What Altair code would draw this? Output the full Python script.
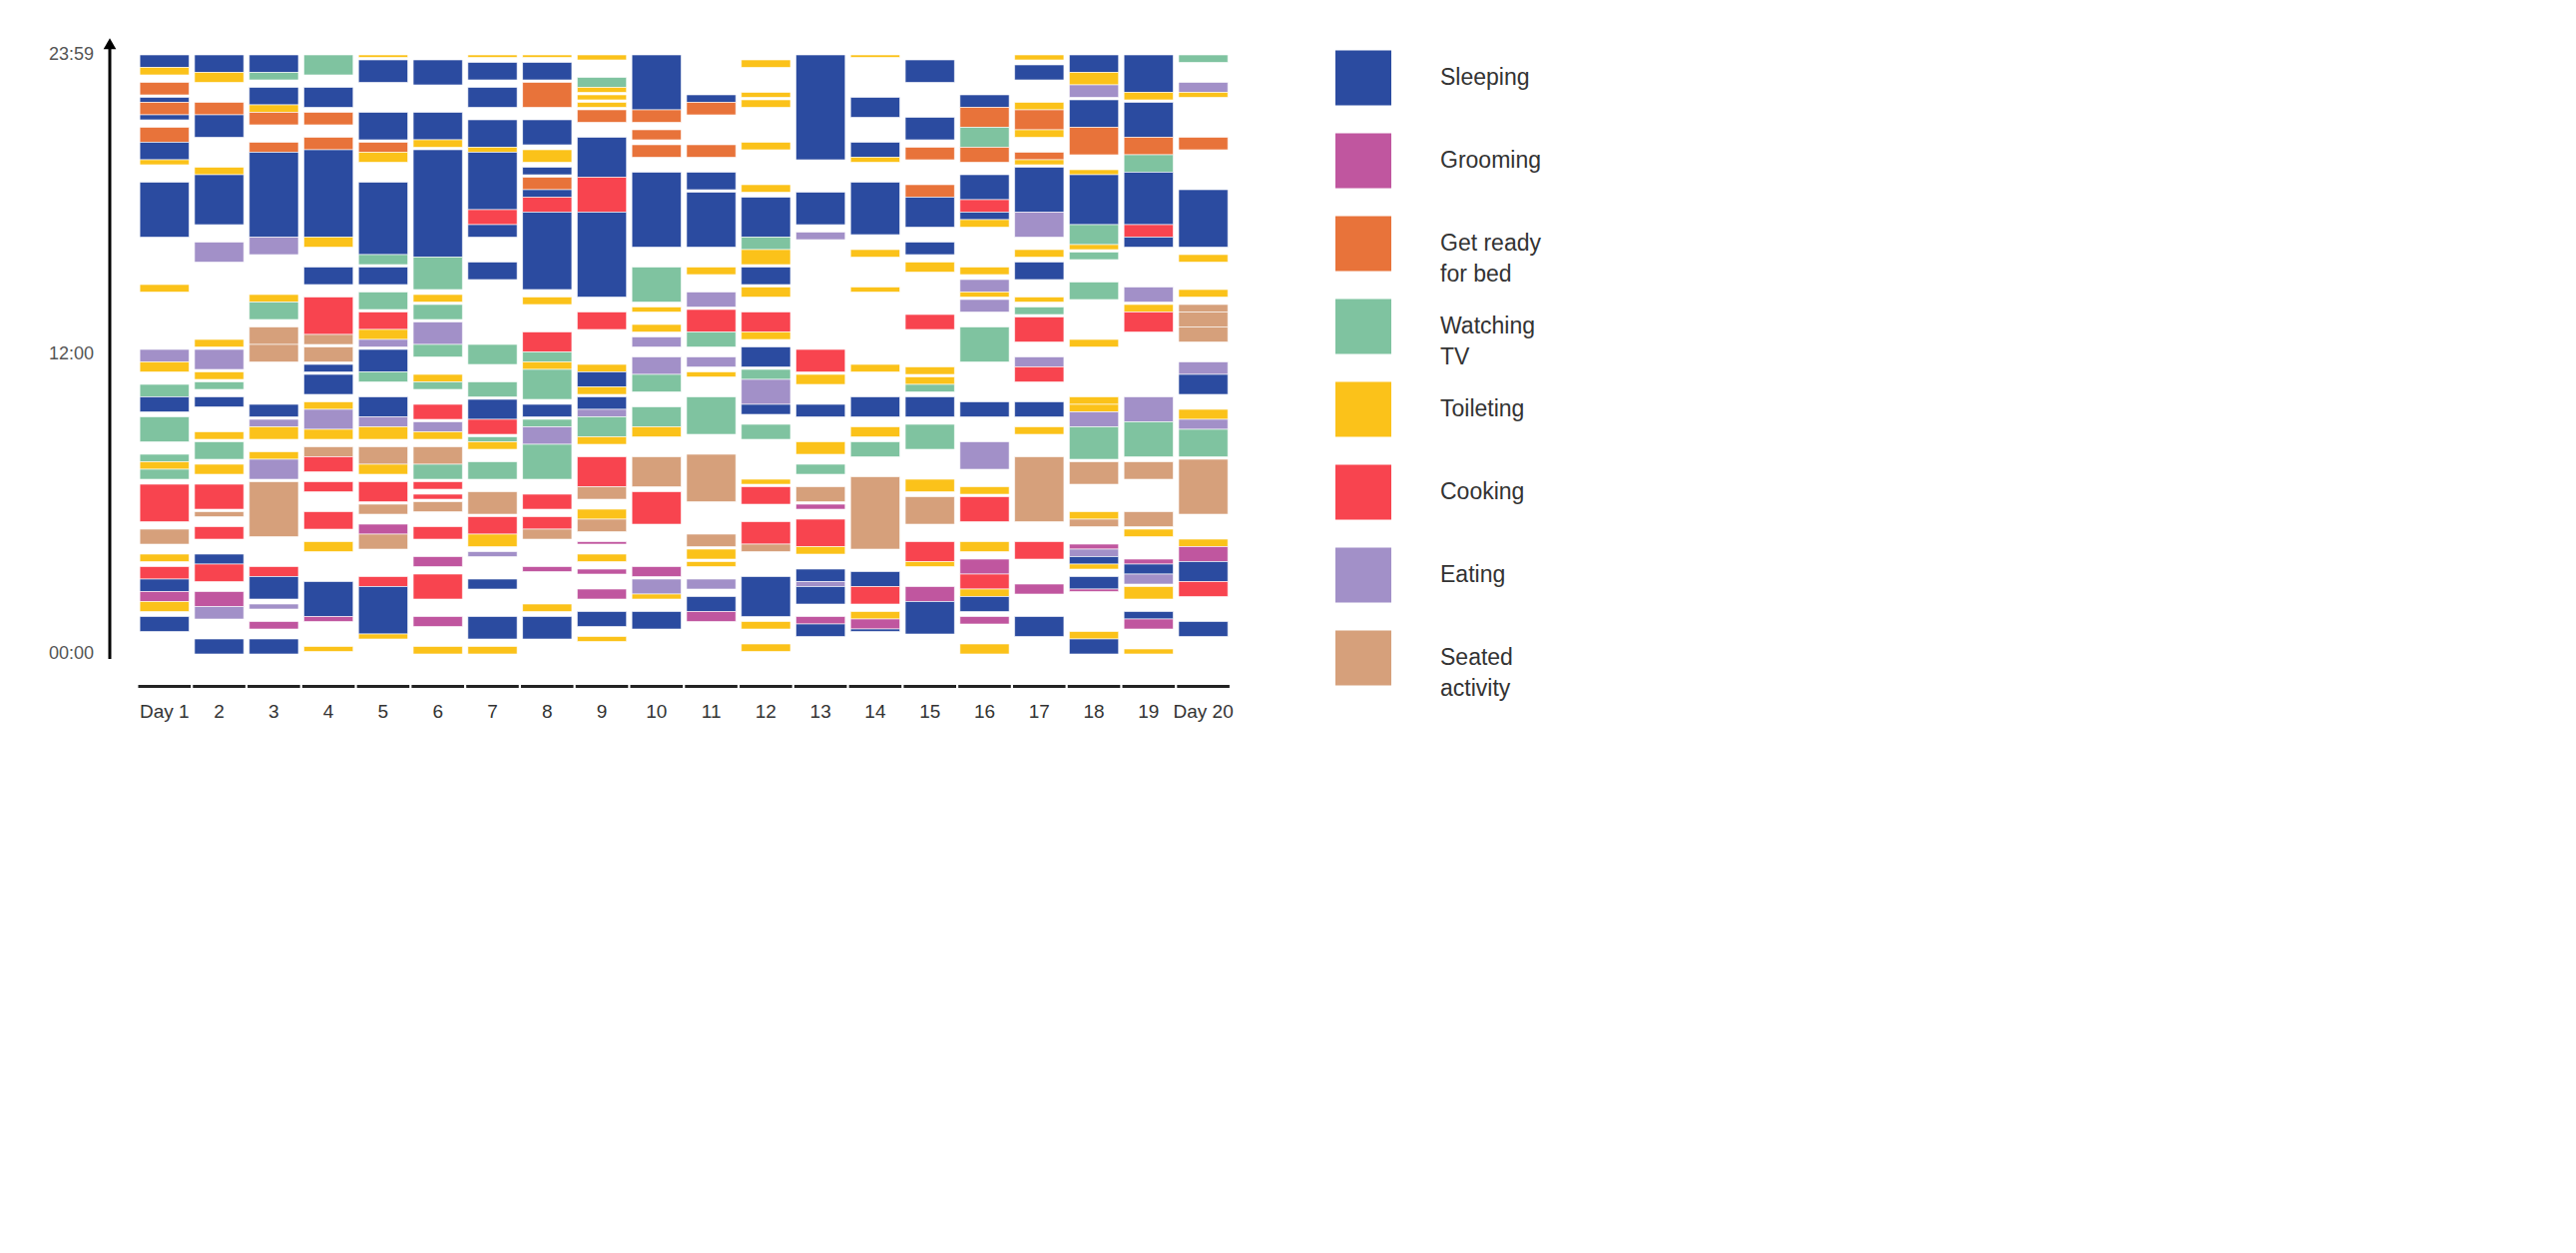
import altair as alt
import pandas as pd

activities = ["Sleeping", "Grooming", "Get ready\nfor bed", "Watching\nTV", "Toileting", "Cooking", "Eating", "Seated\nactivity"]
codes = ["S", "G", "R", "W", "T", "C", "E", "A"]
colors = ["#2b4ba0", "#c0569f", "#e8733a", "#7fc3a0", "#fbc21a", "#f8444f", "#a290c8", "#d6a07b"]
day_labels = ["Day 1"] + [str(i) for i in range(2, 20)] + ["Day 20"]
y_ticks = [0, 12, 24]
y_tick_labels = ["00:00", "12:00", "23:59"]

# (code, start hour (top), end hour (bottom))
d01 = [("S",24.0,23.5),("T",23.5,23.2),("R",22.9,22.4),("S",22.3,22.1),("R",22.1,21.6),("S",21.6,21.4),("R",21.1,20.5),("S",20.5,19.8),("T",19.8,19.6),("S",18.9,16.7),("T",14.8,14.5),("E",12.2,11.7),("T",11.7,11.3),("W",10.8,10.3),("S",10.3,9.7),("W",9.5,8.5),("W",8.0,7.7),("T",7.7,7.4),("W",7.4,7.0),("C",6.8,5.3),("A",5.0,4.4),("T",4.0,3.7),("C",3.5,3.0),("S",3.0,2.5),("G",2.5,2.1),("T",2.1,1.7),("S",1.5,0.9)]
d02 = [("S",24.0,23.3),("T",23.3,22.9),("R",22.1,21.6),("S",21.6,20.7),("T",19.5,19.2),("S",19.2,17.2),("E",16.5,15.7),("T",12.6,12.3),("E",12.2,11.4),("T",11.3,11.0),("W",10.9,10.6),("S",10.3,9.9),("T",8.9,8.6),("W",8.5,7.8),("T",7.6,7.2),("C",6.8,5.8),("A",5.7,5.5),("C",5.1,4.6),("S",4.0,3.6),("C",3.6,2.9),("G",2.5,1.9),("E",1.9,1.4),("S",0.6,0.0)]
d03 = [("S",24.0,23.3),("W",23.3,23.0),("S",22.7,22.0),("T",22.0,21.7),("R",21.7,21.2),("R",20.5,20.1),("S",20.1,16.7),("E",16.7,16.0),("T",14.4,14.1),("W",14.1,13.4),("A",13.1,12.4),("A",12.4,11.7),("S",10.0,9.5),("E",9.4,9.1),("T",9.1,8.6),("T",8.1,7.8),("E",7.8,7.0),("A",6.9,4.7),("C",3.5,3.1),("S",3.1,2.2),("E",2.0,1.8),("G",1.3,1.0),("S",0.6,0.0)]
d04 = [("W",24.0,23.2),("S",22.7,21.9),("R",21.7,21.2),("R",20.7,20.2),("S",20.2,16.7),("T",16.7,16.3),("S",15.5,14.8),("C",14.3,12.8),("A",12.8,12.4),("A",12.3,11.7),("S",11.6,11.3),("S",11.2,10.4),("T",10.1,9.8),("E",9.8,9.0),("T",9.0,8.6),("A",8.3,7.9),("C",7.9,7.3),("C",6.9,6.5),("C",5.7,5.0),("T",4.5,4.1),("S",2.9,1.5),("G",1.5,1.3),("T",0.3,0.1)]
d05 = [("T",24.0,23.9),("S",23.8,22.9),("S",21.7,20.6),("R",20.5,20.1),("T",20.1,19.7),("S",18.9,16.0),("W",16.0,15.6),("S",15.5,14.8),("W",14.5,13.8),("C",13.7,13.0),("T",13.0,12.6),("E",12.6,12.3),("S",12.2,11.3),("W",11.3,10.9),("S",10.3,9.5),("E",9.5,9.1),("T",9.1,8.6),("A",8.3,7.6),("T",7.6,7.2),("C",6.9,6.1),("A",6.0,5.6),("G",5.2,4.8),("A",4.8,4.2),("C",3.1,2.7),("S",2.7,0.8),("T",0.8,0.6)]
d06 = [("S",23.8,22.8),("S",21.7,20.6),("T",20.6,20.3),("S",20.2,15.9),("W",15.9,14.6),("T",14.4,14.1),("W",14.0,13.4),("E",13.3,12.4),("W",12.4,11.9),("T",11.2,10.9),("W",10.9,10.6),("C",10.0,9.4),("E",9.3,8.9),("T",8.9,8.6),("A",8.3,7.6),("W",7.6,7.0),("C",6.9,6.6),("C",6.4,6.2),("A",6.1,5.7),("C",5.1,4.6),("G",3.9,3.5),("C",3.2,2.2),("G",1.5,1.1),("T",0.3,0.0)]
d07 = [("T",24.0,23.9),("S",23.7,23.0),("S",22.7,21.9),("S",21.4,20.3),("T",20.3,20.1),("S",20.1,17.8),("C",17.8,17.2),("S",17.2,16.7),("S",15.7,15.0),("W",12.4,11.6),("W",10.9,10.3),("S",10.2,9.4),("C",9.4,8.8),("W",8.7,8.5),("T",8.5,8.2),("W",7.7,7.0),("A",6.5,5.6),("C",5.5,4.8),("T",4.8,4.3),("E",4.1,3.9),("S",3.0,2.6),("S",1.5,0.6),("T",0.3,0.0)]
d08 = [("T",24.0,23.9),("S",23.7,23.0),("R",22.9,21.9),("S",21.4,20.4),("T",20.2,19.7),("S",19.5,19.2),("R",19.1,18.6),("S",18.6,18.3),("C",18.3,17.7),("S",17.7,14.6),("T",14.3,14.0),("C",12.9,12.1),("W",12.1,11.7),("T",11.7,11.4),("W",11.4,10.2),("S",10.0,9.5),("W",9.4,9.1),("E",9.1,8.4),("W",8.4,7.0),("C",6.4,5.8),("C",5.5,5.0),("A",5.0,4.6),("G",3.5,3.3),("T",2.0,1.7),("S",1.5,0.6)]
d09 = [("T",24.0,23.8),("W",23.1,22.7),("T",22.7,22.5),("T",22.4,22.2),("T",22.1,21.9),("R",21.8,21.3),("S",20.7,19.1),("C",19.1,17.7),("S",17.7,14.3),("C",13.7,13.0),("T",11.6,11.3),("S",11.3,10.7),("T",10.7,10.4),("S",10.3,9.8),("E",9.8,9.5),("W",9.5,8.7),("T",8.7,8.4),("C",7.9,6.7),("A",6.7,6.2),("T",5.8,5.4),("A",5.4,4.9),("G",4.5,4.4),("T",4.0,3.7),("G",3.4,3.2),("G",2.6,2.2),("S",1.7,1.1),("T",0.7,0.5)]
d10 = [("S",24.0,21.8),("R",21.8,21.3),("R",21.0,20.6),("R",20.4,19.9),("S",19.3,16.3),("W",15.5,14.1),("T",13.9,13.7),("T",13.2,12.9),("E",12.7,12.3),("E",11.9,11.2),("W",11.2,10.5),("W",9.9,9.1),("T",9.1,8.7),("A",7.9,6.7),("C",6.5,5.2),("G",3.5,3.1),("E",3.0,2.4),("T",2.4,2.2),("S",1.7,1.0)]
d11 = [("S",22.4,22.1),("R",22.1,21.6),("R",20.4,19.9),("S",19.3,18.6),("S",18.5,16.3),("T",15.5,15.2),("E",14.5,13.9),("C",13.8,12.9),("W",12.9,12.3),("E",11.9,11.5),("T",11.3,11.1),("W",10.3,8.8),("A",8.0,6.1),("A",4.8,4.3),("T",4.2,3.8),("T",3.7,3.5),("E",3.0,2.6),("S",2.3,1.7),("G",1.7,1.3)]
d12 = [("T",23.8,23.5),("T",22.5,22.3),("T",22.2,21.9),("T",20.5,20.2),("T",18.8,18.5),("S",18.3,16.7),("W",16.7,16.2),("T",16.2,15.6),("S",15.5,14.8),("T",14.7,14.3),("C",13.7,12.9),("T",12.9,12.6),("S",12.3,11.5),("W",11.4,11.0),("E",11.0,10.0),("S",10.0,9.6),("W",9.2,8.6),("T",7.0,6.8),("C",6.7,6.0),("C",5.3,4.4),("A",4.4,4.1),("S",3.1,1.5),("T",1.3,1.0),("T",0.4,0.1)]
d13 = [("S",24.0,19.8),("S",18.5,17.2),("E",16.9,16.6),("C",12.2,11.3),("T",11.2,10.8),("S",10.0,9.5),("T",8.5,8.0),("W",7.6,7.2),("A",6.7,6.1),("G",6.0,5.8),("C",5.4,4.3),("T",4.3,4.0),("S",3.4,2.9),("E",2.9,2.7),("S",2.7,2.0),("G",1.5,1.2),("S",1.2,0.7)]
d14 = [("T",24.0,23.9),("S",22.3,21.5),("S",20.5,19.9),("T",19.9,19.7),("S",18.9,16.8),("T",16.2,15.9),("T",14.7,14.5),("T",11.6,11.3),("S",10.3,9.5),("T",9.1,8.7),("W",8.5,7.9),("A",7.1,4.2),("S",3.3,2.7),("C",2.7,2.0),("T",1.7,1.4),("G",1.4,1.0),("S",1.0,0.9)]
d15 = [("S",23.8,22.9),("S",21.5,20.6),("R",20.3,19.8),("R",18.8,18.3),("S",18.3,17.1),("S",16.5,16.0),("T",15.7,15.3),("C",13.6,13.0),("T",11.5,11.2),("T",11.1,10.8),("W",10.8,10.5),("S",10.3,9.5),("W",9.2,8.2),("T",7.0,6.5),("A",6.3,5.2),("C",4.5,3.7),("T",3.7,3.5),("G",2.7,2.1),("S",2.1,0.8)]
d16 = [("S",22.4,21.9),("R",21.9,21.1),("W",21.1,20.3),("R",20.3,19.7),("S",19.2,18.2),("C",18.2,17.7),("S",17.7,17.4),("T",17.4,17.1),("T",15.5,15.2),("E",15.0,14.5),("T",14.5,14.3),("E",14.2,13.7),("W",13.1,11.7),("S",10.1,9.5),("E",8.5,7.4),("T",6.7,6.4),("C",6.3,5.3),("T",4.5,4.1),("G",3.8,3.2),("C",3.2,2.6),("T",2.6,2.3),("S",2.3,1.7),("G",1.5,1.2),("T",0.4,0.0)]
d17 = [("T",24.0,23.8),("S",23.6,23.0),("T",22.1,21.8),("R",21.8,21.0),("T",21.0,20.7),("R",20.1,19.8),("T",19.8,19.6),("S",19.5,17.7),("E",17.7,16.7),("T",16.2,15.9),("S",15.7,15.0),("T",14.3,14.1),("W",13.9,13.6),("C",13.5,12.5),("E",11.9,11.5),("C",11.5,10.9),("S",10.1,9.5),("T",9.1,8.8),("A",7.9,5.3),("C",4.5,3.8),("G",2.8,2.4),("S",1.5,0.7)]
d18 = [("S",24.0,23.3),("T",23.3,22.8),("E",22.8,22.3),("S",22.2,21.1),("R",21.1,20.0),("T",19.4,19.2),("S",19.2,17.2),("W",17.2,16.4),("T",16.4,16.2),("W",16.1,15.8),("W",14.9,14.2),("T",12.6,12.3),("T",10.3,10.0),("T",10.0,9.7),("E",9.7,9.1),("W",9.1,7.8),("A",7.7,6.8),("T",5.7,5.4),("A",5.4,5.1),("G",4.4,4.2),("E",4.2,3.9),("S",3.9,3.6),("T",3.6,3.4),("S",3.1,2.6),("G",2.6,2.5),("T",0.9,0.6),("S",0.6,0.0)]
d19 = [("S",24.0,22.5),("T",22.5,22.2),("S",22.1,20.7),("R",20.7,20.0),("W",20.0,19.3),("S",19.3,17.2),("C",17.2,16.7),("S",16.7,16.3),("E",14.7,14.1),("T",14.0,13.7),("C",13.7,12.9),("E",10.3,9.3),("W",9.3,7.9),("A",7.7,7.0),("A",5.7,5.1),("T",5.0,4.7),("G",3.8,3.6),("S",3.6,3.2),("E",3.2,2.8),("T",2.7,2.2),("S",1.7,1.4),("G",1.4,1.0),("T",0.2,0.0)]
d20 = [("W",24.0,23.7),("E",22.9,22.5),("T",22.5,22.3),("R",20.7,20.2),("S",18.6,16.3),("T",16.0,15.7),("T",14.6,14.3),("A",14.0,13.7),("A",13.7,13.1),("A",13.1,12.5),("E",11.7,11.2),("S",11.2,10.4),("T",9.8,9.4),("E",9.4,9.0),("W",9.0,7.9),("A",7.8,5.6),("T",4.6,4.3),("G",4.3,3.7),("S",3.7,2.9),("C",2.9,2.3),("S",1.3,0.7)]

days = [d01, d02, d03, d04, d05, d06, d07, d08, d09, d10, d11, d12, d13, d14, d15, d16, d17, d18, d19, d20]

rows = []
for i, segs in enumerate(days, start=1):
    for c, top, bot in segs:
        rows.append({"day": i, "x0": i - 0.45, "x1": i + 0.45, "top": top, "bot": bot,
                     "act": activities[codes.index(c)]})
df = pd.DataFrame(rows)

xs = alt.Scale(domain=[0, 20.5], nice=False, zero=False)
ys = alt.Scale(domain=[-2.6, 24.8], nice=False, zero=False)
cs = alt.Scale(domain=activities, range=colors)

bars = alt.Chart(df).mark_rect(stroke="white", strokeWidth=0.6).encode(
    x=alt.X("x0:Q", scale=xs, axis=None), x2="x1:Q",
    y=alt.Y("top:Q", scale=ys, axis=None), y2="bot:Q",
    color=alt.Color("act:N", scale=cs, legend=None),
)

dday = pd.DataFrame({"day": list(range(1, 21)), "label": day_labels})
dday["a"] = dday["day"] - 0.48
dday["b"] = dday["day"] + 0.48
dday["yb"] = -1.3
dday["yl"] = -2.3
under = alt.Chart(dday).mark_rule(color="#222", strokeWidth=3).encode(
    x=alt.X("a:Q", scale=xs), x2="b:Q", y=alt.Y("yb:Q", scale=ys))
dlab = alt.Chart(dday).mark_text(fontSize=19, color="#333", font="Liberation Sans").encode(
    x=alt.X("day:Q", scale=xs), y=alt.Y("yl:Q", scale=ys), text="label:N")

dax = pd.DataFrame({"x": [0.0], "y0": [-0.2], "y1": [24.4], "ya": [24.45]})
axis_line = alt.Chart(dax).mark_rule(color="black", strokeWidth=3).encode(
    x=alt.X("x:Q", scale=xs), y=alt.Y("y0:Q", scale=ys), y2="y1:Q")
arrow = alt.Chart(dax).mark_point(shape="triangle-up", filled=True, color="black", size=160, opacity=1).encode(
    x=alt.X("x:Q", scale=xs), y=alt.Y("ya:Q", scale=ys))
dyt = pd.DataFrame({"x": [0.0] * 3, "y": y_ticks, "label": y_tick_labels})
ylab = alt.Chart(dyt).mark_text(align="right", dx=-16, fontSize=18, color="#555", font="Liberation Sans").encode(
    x=alt.X("x:Q", scale=xs), y=alt.Y("y:Q", scale=ys), text="label:N")

main = alt.layer(bars, under, dlab, axis_line, arrow, ylab).properties(width=1123, height=685)

dleg = pd.DataFrame({"act": activities, "pos": list(range(8))})
dleg["p0"] = dleg["pos"] - 0.33
dleg["p1"] = dleg["pos"] + 0.33
lys = alt.Scale(domain=[-0.518, 7.735], nice=False, zero=False, reverse=True)
lsw = alt.Chart(dleg).mark_rect().encode(
    x=alt.value(22), x2=alt.value(78),
    y=alt.Y("p0:Q", scale=lys, axis=None), y2="p1:Q",
    color=alt.Color("act:N", scale=cs, legend=None))
ltx = alt.Chart(dleg).mark_text(align="left", baseline="middle", fontSize=23, color="#333",
                                lineBreak="\n", lineHeight=31, font="Liberation Sans").encode(
    x=alt.value(127), y=alt.Y("pos:Q", scale=lys, axis=None), text="act:N")
legend = alt.layer(lsw, ltx).properties(width=300, height=685)

chart = alt.hconcat(main, legend, spacing=80).properties(
    padding={"left": 40, "top": 27, "right": 10, "bottom": 10}
).configure_view(stroke=None)

chart.save("out.html", embed_options={"renderer": "svg", "actions": False})
